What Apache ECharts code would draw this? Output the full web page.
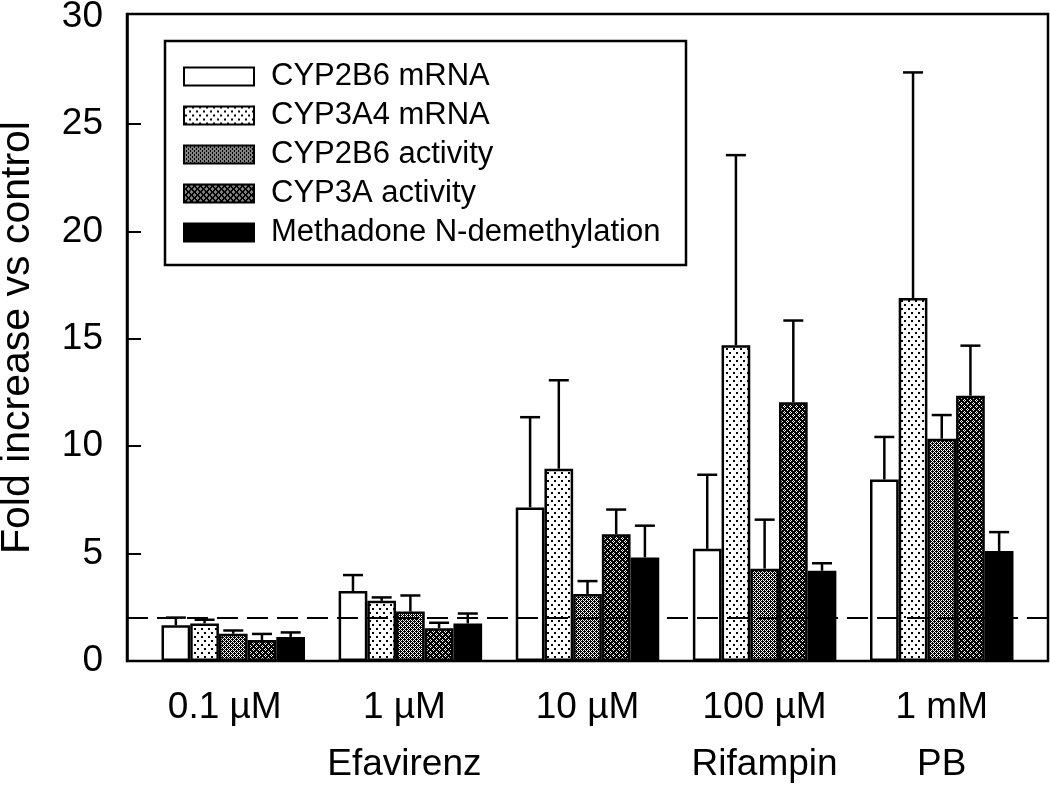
<!DOCTYPE html>
<html>
<head>
<meta charset="utf-8">
<script src="https://cdn.jsdelivr.net/npm/echarts@6/dist/echarts.min.js"></script>
<style>
html,body{margin:0;padding:0;background:#fff;}
#chart{width:1050px;height:787px;}
</style>
</head>
<body>
<div id="chart"></div>
<script>
// ---- data ----
const categories = ['0.1 µM', '1 µM', '10 µM', '100 µM', '1 mM'];
const drugLabels = ['', 'Efavirenz', '', 'Rifampin', 'PB'];
const seriesNames = ['CYP2B6 mRNA', 'CYP3A4 mRNA', 'CYP2B6 activity', 'CYP3A activity', 'Methadone N-demethylation'];
const cyp2b6mRNA      = [1.67, 3.26, 7.15, 5.22, 8.45];
const cyp2b6mRNA_sd   = [0.35, 0.74, 4.20, 3.45, 1.98];
const cyp3a4mRNA      = [1.75, 2.80, 8.95, 14.70, 16.90];
const cyp3a4mRNA_sd   = [0.17, 0.16, 4.12, 8.85, 10.50];
const cyp2b6Activity    = [1.27, 2.30, 3.12, 4.30, 10.35];
const cyp2b6Activity_sd = [0.15, 0.75, 0.60, 2.28, 1.10];
const cyp3aActivity     = [0.98, 1.53, 5.90, 12.05, 12.35];
const cyp3aActivity_sd  = [0.28, 0.25, 1.15, 3.80, 2.33];
const methadone       = [1.12, 1.75, 4.82, 4.20, 5.12];
const methadone_sd    = [0.21, 0.46, 1.48, 0.35, 0.88];
const threshold = 2;
const yTickValues = [0, 5, 10, 15, 20, 25, 30];
const yTickMarks = [5, 10, 15, 20, 25];

const means = [cyp2b6mRNA, cyp3a4mRNA, cyp2b6Activity, cyp3aActivity, methadone];
const sds = [cyp2b6mRNA_sd, cyp3a4mRNA_sd, cyp2b6Activity_sd, cyp3aActivity_sd, methadone_sd];

// ---- styles ----
const FONT = "'Liberation Sans', Arial, sans-serif";
const BAR_W = 28.7;
const Y_TOP = 30.12;          // frame sits slightly above the 30 tick
const labelPadRight = [17, 12, 0, 0, 0];

function makePattern(rows) {
  const h = rows.length, w = rows[0].length;
  const c = document.createElement('canvas');
  c.width = w; c.height = h;
  const ctx = c.getContext('2d');
  ctx.fillStyle = '#fff';
  ctx.fillRect(0, 0, w, h);
  ctx.fillStyle = '#000';
  for (let y = 0; y < h; y++) for (let x = 0; x < w; x++) {
    if (rows[y][x] === '#') ctx.fillRect(x, y, 1, 1);
  }
  return { image: c, repeat: 'repeat' };
}
const patDots = makePattern([
  '.##....',
  '.##....',
  '.......',
  '.......',
  '.....##',
  '.....##',
  '.......',
  '.......'
]);
const patGray = makePattern([
  '#.#.',
  '.###',
  '#.#.',
  '##.#'
]);
const patDark = makePattern([
  '#.####',
  '.#.###',
  '#.####',
  '####.#',
  '###.#.',
  '####.#'
]);
const fills = ['#ffffff', patDots, patGray, patDark, '#000000'];

const chart = echarts.init(document.getElementById('chart'), null, { renderer: 'canvas' });

const barSeries = seriesNames.map((name, i) => ({
  name: name,
  type: 'bar',
  xAxisIndex: 1,
  yAxisIndex: 1,
  barWidth: BAR_W,
  barGap: '0%',
  data: means[i],
  z: 2,
  itemStyle: { color: fills[i], borderColor: '#000', borderWidth: 2.5 },
  emphasis: { disabled: true },
  animation: false
}));

const errData = [];
means.forEach((arr, i) => arr.forEach((v, j) => errData.push([j, v, v + sds[i][j], i])));

const option = {
  animation: false,
  grid: [
    { left: 127, right: 2, top: 14, bottom: 126, outerBoundsMode: 'none', containLabel: false, show: true, borderColor: '#000', borderWidth: 2.5, backgroundColor: 'transparent' },
    { left: 144.7, right: 19.7, top: 14, bottom: 126, outerBoundsMode: 'none', containLabel: false }
  ],
  xAxis: [
    { type: 'value', gridIndex: 0, min: 0, max: 1, axisLine: { show: false }, axisTick: { show: false }, axisLabel: { show: false }, splitLine: { show: false } },
    {
      type: 'category', gridIndex: 1,
      data: categories.map((c, i) => ({ value: c, textStyle: { padding: [0, labelPadRight[i], 0, 0] } })),
      axisLine: { show: false }, axisTick: { show: false },
      axisLabel: {
        interval: 0, margin: 18, color: '#000', fontFamily: FONT, fontSize: 37, lineHeight: 57,
        formatter: (val, idx) => val + '\n' + drugLabels[idx]
      }
    }
  ],
  yAxis: [
    {
      type: 'value', gridIndex: 0, min: 0, max: Y_TOP,
      name: 'Fold increase vs control', nameLocation: 'middle', nameGap: 89,
      nameTextStyle: { color: '#000', fontFamily: FONT, fontSize: 41 },
      axisLine: { show: true, lineStyle: { color: '#000', width: 2.5 } },
      axisTick: { show: true, inside: true, length: 14, customValues: yTickMarks, lineStyle: { color: '#000', width: 2 } },
      axisLabel: { color: '#000', fontFamily: FONT, fontSize: 37, margin: 24, customValues: yTickValues },
      splitLine: { show: false }
    },
    { type: 'value', gridIndex: 1, min: 0, max: Y_TOP, show: false, splitLine: { show: false } }
  ],
  legend: {
    data: seriesNames,
    orient: 'vertical',
    left: 183, top: 61,
    padding: 0,
    itemWidth: 70, itemHeight: 18, itemGap: 8.0,
    icon: 'rect',
    selectedMode: false,
    z: 6,
    textStyle: { color: '#000', fontFamily: FONT, fontSize: 31, lineHeight: 30, padding: [0, 0, 0, 12] }
  },
  graphic: [
    { type: 'rect', z: 5, shape: { x: 165, y: 41, width: 521, height: 224 }, style: { fill: '#fff', stroke: '#000', lineWidth: 2.5 } }
  ],
  series: barSeries.concat([
    {
      type: 'custom',
      xAxisIndex: 1, yAxisIndex: 1,
      z: 4,
      silent: true,
      data: errData,
      encode: { x: 0, y: [1, 2] },
      renderItem: function (params, api) {
        const cat = api.value(0);
        const top = api.coord([cat, api.value(1)]);
        const cap = api.coord([cat, api.value(2)]);
        const x = top[0] + (api.value(3) - 2) * BAR_W;
        const st = { stroke: '#000', lineWidth: 2.5 };
        return {
          type: 'group',
          children: [
            { type: 'line', shape: { x1: x, y1: top[1], x2: x, y2: cap[1] }, style: st },
            { type: 'line', shape: { x1: x - 10, y1: cap[1], x2: x + 10, y2: cap[1] }, style: st }
          ]
        };
      }
    },
    {
      type: 'line', xAxisIndex: 0, yAxisIndex: 0, data: [], z: 8, silent: true,
      markLine: {
        silent: true, symbol: 'none', animation: false,
        label: { show: false },
        lineStyle: { color: '#000', width: 1.8, type: [21, 9] },
        data: [{ yAxis: threshold }]
      }
    }
  ])
};
chart.setOption(option);
</script>
</body>
</html>
